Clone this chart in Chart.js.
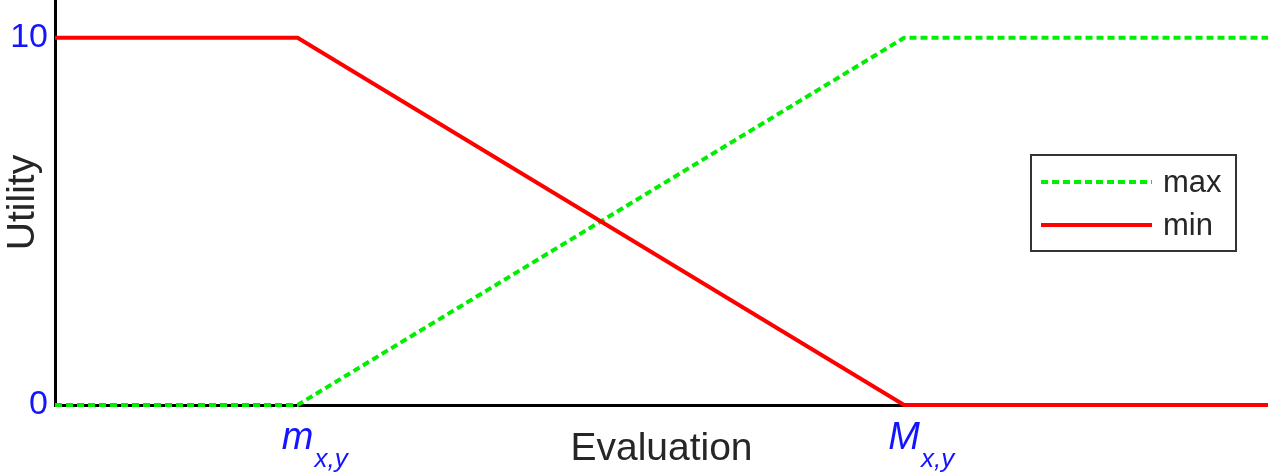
<!DOCTYPE html>
<html>
<head>
<meta charset="utf-8">
<script src="https://cdn.jsdelivr.net/npm/chart.js@4.4.1/dist/chart.umd.min.js"></script>
<style>
  html, body { margin: 0; padding: 0; background: #fff; }
  #wrap { width: 1268px; height: 475px; }
</style>
</head>
<body>
<div id="wrap"><canvas id="chart" width="1268" height="475"></canvas></div>
<script>
// Breakpoints on the evaluation axis and the two utility curves.
const evalPoints = [0, 2, 7, 10];
const maxUtility = [0, 0, 10, 10];
const minUtility = [10, 10, 0, 0];
const yTickValues = [0, 10];
// x tick labels: main letter + subscript.
const xTickValues = [2, 7];
const xTickMain = ['m', 'M'];
const xTickSub = ['x,y', 'x,y'];
const legendLabels = ['max', 'min'];

const FONT = '"Liberation Sans", Arial, Helvetica, sans-serif';
const TEXT = '#262626';
const BLUE = '#1414ff';

function toXY(ys) {
  return evalPoints.map((x, i) => ({ x: x, y: ys[i] }));
}

// Draws the subscripted tick labels on the x axis.
const subTicks = {
  id: 'subTicks',
  afterDraw(chart) {
    const ctx = chart.ctx;
    const xs = chart.scales.x;
    ctx.save();
    ctx.fillStyle = BLUE;
    ctx.textBaseline = 'alphabetic';
    xTickValues.forEach((v, i) => {
      const px = xs.getPixelForValue(v);
      ctx.font = 'italic 38px ' + FONT;
      const w = ctx.measureText(xTickMain[i]).width;
      ctx.textAlign = 'center';
      ctx.fillText(xTickMain[i], px, 449);
      ctx.font = 'italic 26px ' + FONT;
      ctx.textAlign = 'left';
      ctx.fillText(xTickSub[i], px + w / 2 + 1, 467);
    });
    ctx.restore();
  }
};

// Boxed legend inside the plot area, upper right.
const boxLegend = {
  id: 'boxLegend',
  afterDraw(chart) {
    const ctx = chart.ctx;
    const bx = 1031, by = 155, bw = 205, bh = 96;
    ctx.save();
    ctx.fillStyle = '#fff';
    ctx.fillRect(bx, by, bw, bh);
    ctx.strokeStyle = '#333';
    ctx.lineWidth = 2;
    ctx.strokeRect(bx, by, bw, bh);
    // legend order: max then min
    const sets = [chart.data.datasets[1], chart.data.datasets[0]];
    const rows = [182, 225];
    sets.forEach((ds, i) => {
      ctx.beginPath();
      ctx.strokeStyle = ds.borderColor;
      ctx.lineWidth = ds.borderWidth;
      ctx.setLineDash(ds.borderDash || []);
      ctx.moveTo(1041, rows[i]);
      ctx.lineTo(1152, rows[i]);
      ctx.stroke();
      ctx.setLineDash([]);
      ctx.fillStyle = TEXT;
      ctx.font = '31px ' + FONT;
      ctx.textAlign = 'left';
      ctx.textBaseline = 'middle';
      ctx.fillText(legendLabels[i], 1163, rows[i] + 1);
    });
    ctx.restore();
  }
};

new Chart(document.getElementById('chart'), {
  type: 'line',
  data: {
    datasets: [
      {
        label: 'min',
        data: toXY(minUtility),
        borderColor: '#ff0000',
        borderWidth: 4,
        pointRadius: 0,
        tension: 0,
        clip: false
      },
      {
        label: 'max',
        data: toXY(maxUtility),
        borderColor: '#00ee00',
        borderWidth: 4,
        borderDash: [7, 4],
        pointRadius: 0,
        tension: 0,
        clip: false
      }
    ]
  },
  options: {
    responsive: false,
    animation: false,
    layout: { padding: 0 },
    plugins: {
      legend: { display: false },
      tooltip: { enabled: false }
    },
    scales: {
      x: {
        type: 'linear',
        min: 0,
        max: 10,
        grid: { display: false, drawTicks: false },
        border: { display: true, color: '#000', width: 3 },
        ticks: { display: false },
        afterFit(s) {
          s.height = 70;
          s.paddingLeft = 0;
          s.paddingRight = 0;
        },
        title: {
          display: true,
          text: 'Evaluation',
          color: TEXT,
          font: { family: FONT, size: 39 },
          padding: { top: 2, bottom: 2 }
        }
      },
      y: {
        type: 'linear',
        min: 0,
        max: 11.03,
        grid: { display: false, drawTicks: false },
        border: { display: true, color: '#000', width: 3 },
        afterBuildTicks(s) { s.ticks = yTickValues.map(v => ({ value: v })); },
        afterFit(s) {
          s.width = 55;
          s.paddingTop = 0;
          s.paddingBottom = 0;
        },
        ticks: {
          color: BLUE,
          font: { family: FONT, size: 34 },
          padding: 7
        },
        title: {
          display: true,
          text: 'Utility',
          color: TEXT,
          font: { family: FONT, size: 39 },
          padding: 0
        }
      }
    }
  },
  plugins: [subTicks, boxLegend]
});
</script>
</body>
</html>
